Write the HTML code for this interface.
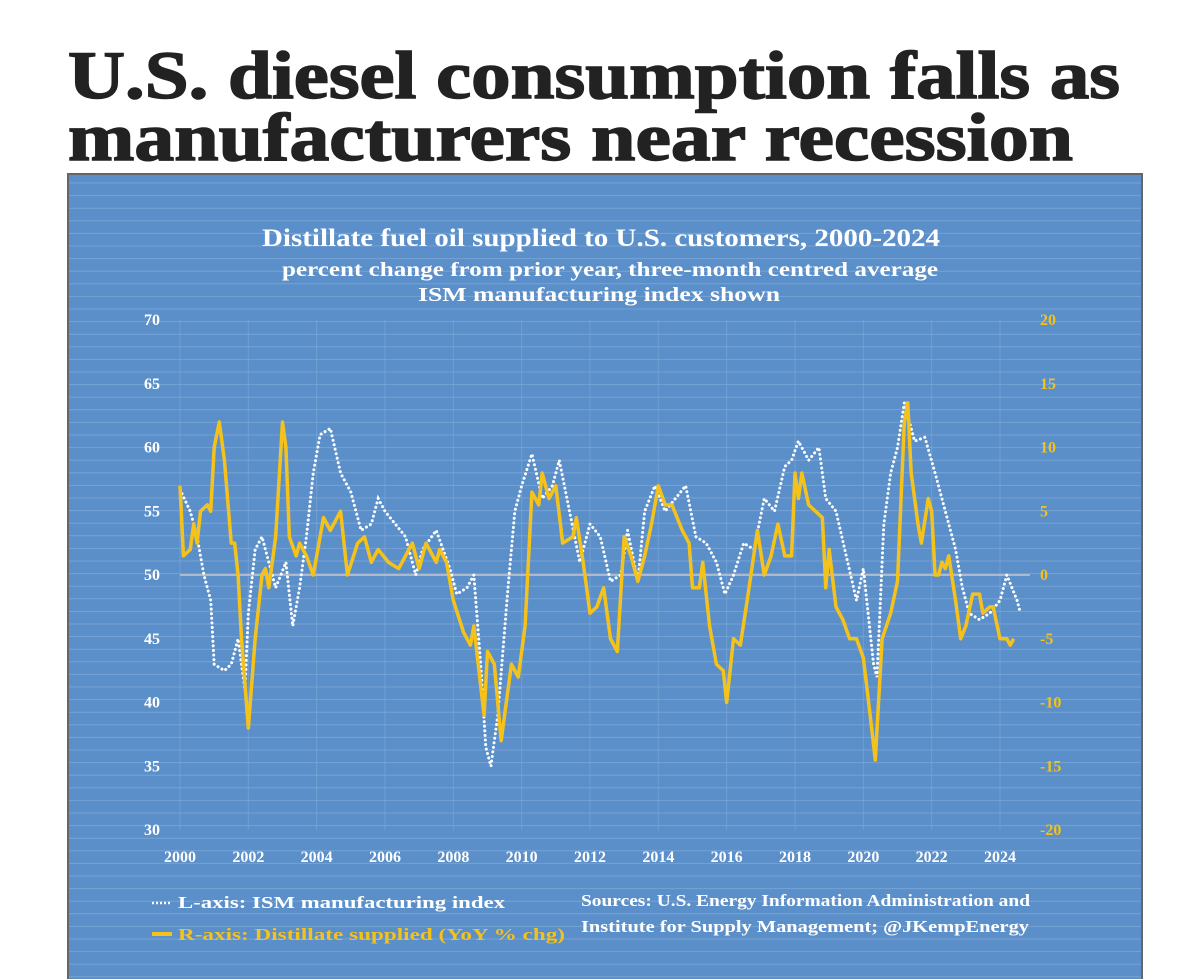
<!DOCTYPE html>
<html><head><meta charset="utf-8"><style>
html,body{margin:0;padding:0;background:#fff;width:1200px;height:979px;overflow:hidden}
svg text{font-family:"Liberation Serif",serif;font-weight:bold}
</style></head><body>
<svg id="c" width="1200" height="979" xmlns="http://www.w3.org/2000/svg">
<text x="68" y="98" font-size="68" fill="#222" stroke="#222" stroke-width="1.5" textLength="1052" lengthAdjust="spacingAndGlyphs">U.S. diesel consumption falls as</text>
<text x="68" y="160" font-size="68" fill="#222" stroke="#222" stroke-width="1.5" textLength="1005" lengthAdjust="spacingAndGlyphs">manufacturers near recession</text>
<rect x="68" y="174" width="1074" height="810" fill="#5b8fc9" stroke="#666" stroke-width="2"/>
<g id="stripes"></g>
<g id="grid"></g>
<text x="262" y="246" font-size="25" fill="#fff" textLength="678" lengthAdjust="spacingAndGlyphs">Distillate fuel oil supplied to U.S. customers, 2000-2024</text>
<text x="282" y="276" font-size="20" fill="#fff" textLength="656" lengthAdjust="spacingAndGlyphs">percent change from prior year, three-month centred average</text>
<text x="418" y="301" font-size="20" fill="#fff" textLength="362" lengthAdjust="spacingAndGlyphs">ISM manufacturing index shown</text>
<g id="axes"></g>
<g id="series"></g>
<line x1="152" y1="903" x2="172" y2="903" stroke="#fff" stroke-width="2.5" stroke-dasharray="2,2"/>
<text x="178" y="908" font-size="17" fill="#fff" textLength="327" lengthAdjust="spacingAndGlyphs">L-axis: ISM manufacturing index</text>
<line x1="152" y1="934" x2="172" y2="934" stroke="#f5c21b" stroke-width="4"/>
<text x="178" y="940" font-size="17" fill="#f5c21b" textLength="387" lengthAdjust="spacingAndGlyphs">R-axis: Distillate supplied (YoY % chg)</text>
<text x="581" y="906" font-size="17" fill="#fff" textLength="449" lengthAdjust="spacingAndGlyphs">Sources: U.S. Energy Information Administration and</text>
<text x="581" y="932" font-size="17" fill="#fff" textLength="448" lengthAdjust="spacingAndGlyphs">Institute for Supply Management; @JKempEnergy</text>
</svg>
<script>
const ismYears=[2000.0,2000.3,2000.5,2000.7,2000.9,2001.0,2001.3,2001.5,2001.7,2001.9,2002.0,2002.2,2002.4,2002.6,2002.8,2003.1,2003.3,2003.5,2003.7,2003.9,2004.1,2004.4,2004.7,2005.0,2005.3,2005.6,2005.8,2006.0,2006.3,2006.6,2006.9,2007.1,2007.5,2007.9,2008.1,2008.4,2008.6,2008.8,2008.95,2009.1,2009.3,2009.6,2009.8,2010.0,2010.3,2010.6,2010.9,2011.1,2011.4,2011.7,2012.0,2012.3,2012.6,2012.9,2013.1,2013.4,2013.6,2013.9,2014.2,2014.5,2014.8,2015.1,2015.4,2015.7,2015.95,2016.2,2016.5,2016.8,2017.1,2017.4,2017.7,2017.9,2018.1,2018.4,2018.7,2018.9,2019.2,2019.5,2019.8,2020.0,2020.3,2020.4,2020.6,2020.8,2021.0,2021.2,2021.5,2021.8,2022.1,2022.4,2022.7,2022.9,2023.1,2023.4,2023.7,2024.0,2024.2,2024.5,2024.6];
const ismValues=[56.7,55,53,50,48,43,42.5,43,45,41,47,52,53,51,49,51,46,49,53,58,61,61.5,58,56.5,53.5,54,56,55,54,53,50,52,53.5,50.5,48.5,49,50,43,36.5,35,39,49,55,57,59.5,56,57,59,55,51,54,53,49.5,50,53.5,49.5,55,57,55,56,57,53,52.5,51,48.5,50,52.5,52,56,55,58.5,59,60.5,59,60,56,55,51.5,48,50.5,43,42,54,58,60,63.5,60.5,60.8,58,55,52,49,47,46.5,47,48,50,48,47];
const dstYears=[2000.0,2000.1,2000.3,2000.4,2000.5,2000.6,2000.8,2000.9,2001.0,2001.15,2001.3,2001.5,2001.6,2001.7,2001.8,2002.0,2002.2,2002.4,2002.5,2002.6,2002.8,2003.0,2003.1,2003.2,2003.4,2003.5,2003.7,2003.9,2004.2,2004.4,2004.7,2004.9,2005.2,2005.4,2005.6,2005.8,2006.1,2006.4,2006.6,2006.8,2007.0,2007.2,2007.5,2007.6,2007.8,2008.0,2008.3,2008.5,2008.6,2008.9,2009.0,2009.2,2009.4,2009.6,2009.7,2009.9,2010.1,2010.3,2010.5,2010.6,2010.8,2011.0,2011.2,2011.5,2011.6,2011.8,2012.0,2012.2,2012.4,2012.6,2012.8,2013.0,2013.2,2013.4,2013.6,2013.8,2014.0,2014.2,2014.4,2014.7,2014.9,2015.0,2015.2,2015.3,2015.5,2015.7,2015.9,2016.0,2016.2,2016.4,2016.6,2016.9,2017.1,2017.3,2017.5,2017.7,2017.9,2018.0,2018.1,2018.2,2018.4,2018.6,2018.8,2018.9,2019.0,2019.2,2019.4,2019.6,2019.8,2020.0,2020.2,2020.35,2020.55,2020.8,2021.0,2021.2,2021.3,2021.4,2021.6,2021.7,2021.9,2022.0,2022.1,2022.2,2022.3,2022.4,2022.5,2022.7,2022.85,2023.0,2023.2,2023.4,2023.5,2023.7,2023.8,2024.0,2024.2,2024.3,2024.4];
const dstValues=[7,1.5,2,4,2.5,5,5.5,5,10,12,9,2.5,2.5,0,-5,-12,-5,0,0.5,-1,3,12,10,3,1.5,2.5,1.5,0,4.5,3.5,5,0,2.5,3,1,2,1,0.5,1.5,2.5,0.5,2.5,1,2,1,-2,-4.5,-5.5,-4,-11,-6,-7,-13,-9,-7,-8,-4,6.5,5.5,8,6,7,2.5,3,4.5,1,-3,-2.5,-1,-5,-6,3,1.5,-0.5,1.5,4,7,5.5,5.5,3.5,2.5,-1,-1,1,-4,-7,-7.5,-10,-5,-5.5,-2,3.5,0,1.5,4,1.5,1.5,8,6,8,5.5,5,4.5,-1,2,-2.5,-3.5,-5,-5,-6.5,-11,-14.5,-5,-3,-0.5,12,13.5,8,4,2.5,6,5,0,0,1,0.5,1.5,-2,-5,-4,-1.5,-1.5,-3,-2.5,-2.5,-5,-5,-5.5,-5];
const leftTicks=[30,35,40,45,50,55,60,65,70];
const rightTicks=[-20,-15,-10,-5,0,5,10,15,20];
const yearTicks=[2000,2002,2004,2006,2008,2010,2012,2014,2016,2018,2020,2022,2024];

const NS="http://www.w3.org/2000/svg";
const X0=180,X1=1000,Y0=320,Y1=830;
const xs=y=>X0+(y-2000)/24*(X1-X0);
const yl=v=>Y1-(v-30)/40*(Y1-Y0);
const yr=v=>Y1-(v+20)/40*(Y1-Y0);
function mk(tag,attrs,parent){const e=document.createElementNS(NS,tag);for(const k in attrs)e.setAttribute(k,attrs[k]);parent.appendChild(e);return e;}
const stripes=document.getElementById('stripes');
for(let y=183;y<979;y+=12.6){
  const l=mk('line',{x1:69,x2:1141,y1:y,y2:y,stroke:'#8fb5df','stroke-width':1,opacity:0.5},stripes);
  
  
}
const grid=document.getElementById('grid');
yearTicks.forEach(t=>{
  const l=mk('line',{x1:xs(t),x2:xs(t),y1:Y0,y2:Y1,stroke:'#7ea8d8','stroke-width':1,opacity:0.6},grid);
  
  
});
const zl=mk('line',{x1:X0,x2:1030,y1:yr(0),y2:yr(0),stroke:'#c8c8c8','stroke-width':1.5},grid);


const axes=document.getElementById('axes');
leftTicks.forEach(t=>{
  const e=mk('text',{x:160,y:yl(t)+5,'font-size':16,fill:'#fff','text-anchor':'end'},axes);e.textContent=t;
  
  
});
rightTicks.forEach(t=>{
  const e=mk('text',{x:1040,y:yr(t)+5,'font-size':16,fill:'#f5c21b'},axes);e.textContent=t;
  
  
});
yearTicks.forEach(t=>{
  const e=mk('text',{x:xs(t),y:862,'font-size':16,fill:'#fff','text-anchor':'middle'},axes);e.textContent=t;
  
  
});
const series=document.getElementById('series');
const ism=mk('polyline',{points:ismYears.map((y,i)=>xs(y)+','+yl(ismValues[i])).join(' '),fill:'none',stroke:'#fff','stroke-width':3,'stroke-dasharray':'0.1,4.5','stroke-linecap':'round'},series);


const dst=mk('polyline',{points:dstYears.map((y,i)=>xs(y)+','+yr(dstValues[i])).join(' '),fill:'none',stroke:'#f5c21b','stroke-width':3.5,'stroke-linejoin':'round'},series);


</script>
</body></html>
